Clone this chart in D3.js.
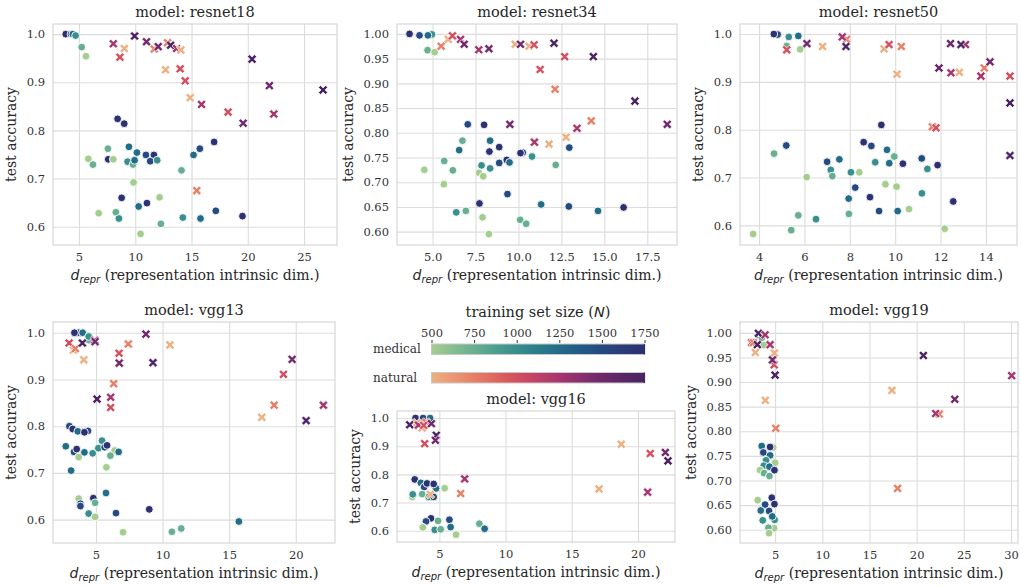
<!DOCTYPE html>
<html>
<head>
<meta charset="utf-8">
<script src="https://cdn.jsdelivr.net/npm/d3@7"></script>
<style>
  body { margin: 0; background: #fff; }
  svg { display: block; font-family: "DejaVu Serif", serif; }
</style>
</head>
<body>
<svg id="chart" width="1021" height="586"></svg>
<script>
// each point: [d_repr, test accuracy, training set size N]
const resnet18Medical = [[3.82,1.000,1750],[4.29,1.000,1500],[4.45,1.000,1250],[4.70,0.997,1000],[5.24,0.973,750],[5.62,0.954,500],
  [8.43,0.824,1750],[9.02,0.814,1750],[7.57,0.762,750],[7.60,0.740,1750],[8.05,0.740,500],[5.83,0.741,500],[6.24,0.729,750],
  [9.44,0.766,1250],[10.15,0.754,1250],[9.32,0.735,1000],[9.80,0.729,750],[9.94,0.738,1250],[10.95,0.749,1500],[11.66,0.749,1750],
  [11.33,0.736,1500],[11.95,0.738,1000],[9.85,0.692,500],[14.11,0.717,750],[15.18,0.749,1250],[15.74,0.762,1500],[17.01,0.776,1750],
  [8.79,0.660,1750],[11.04,0.649,1750],[10.30,0.642,1250],[12.16,0.661,500],[6.75,0.628,500],[8.28,0.630,750],[8.55,0.617,1000],
  [10.47,0.585,500],[12.28,0.606,750],[14.23,0.619,1000],[15.80,0.617,1250],[17.16,0.633,1500],[19.53,0.622,1750]];
const resnet18Natural = [[8.05,0.980,1250],[9.94,0.996,1750],[9.02,0.970,500],[8.64,0.952,1000],[11.00,0.984,1500],[11.69,0.969,750],
  [12.04,0.974,1500],[12.87,0.982,750],[13.14,0.977,1750],[13.67,0.970,1250],[14.05,0.967,500],[12.69,0.926,500],[13.99,0.928,1000],
  [14.44,0.903,1000],[14.88,0.868,500],[15.89,0.854,1250],[18.25,0.838,1000],[15.47,0.675,750],[20.38,0.948,1750],[21.92,0.893,1500],
  [19.59,0.815,1500],[22.31,0.834,1250],[26.69,0.884,1750]];

const resnet34Medical = [[3.66,1.000,1750],[4.24,0.997,1500],[4.96,0.999,1000],[4.73,0.997,1250],[4.71,0.967,750],[5.12,0.963,500],
  [7.05,0.817,1500],[8.00,0.816,1750],[6.74,0.784,750],[6.55,0.765,1250],[8.35,0.784,1250],[8.88,0.771,1750],[8.31,0.762,1750],
  [5.68,0.743,750],[4.52,0.725,500],[6.18,0.724,750],[5.66,0.696,500],[7.85,0.734,1000],[7.71,0.719,500],[7.95,0.712,500],
  [8.35,0.728,1000],[8.88,0.739,1500],[9.32,0.745,1750],[9.48,0.740,1250],[10.25,0.760,1500],[10.12,0.759,1750],[10.79,0.752,1000],
  [12.17,0.735,750],[12.96,0.770,1500],[9.36,0.676,1500],[7.73,0.657,1750],[11.32,0.655,1250],[12.93,0.651,1500],[14.63,0.642,1250],
  [16.12,0.649,1750],[6.38,0.639,1000],[6.94,0.642,750],[7.91,0.629,500],[10.10,0.624,750],[10.45,0.616,750],[8.28,0.595,500]];
const resnet34Natural = [[5.91,0.989,500],[5.50,0.975,750],[6.16,0.996,1000],[6.63,0.989,1250],[6.84,0.979,1500],[7.69,0.968,1250],
  [8.28,0.970,1500],[9.81,0.979,500],[10.12,0.979,1500],[10.62,0.975,500],[10.91,0.978,1000],[12.07,0.981,1750],[12.69,0.954,1000],
  [14.36,0.954,1750],[11.26,0.928,1000],[12.13,0.888,750],[16.78,0.864,1750],[18.66,0.817,1500],[9.50,0.817,1500],[10.93,0.781,1250],
  [11.78,0.777,500],[12.77,0.791,500],[13.41,0.809,1250],[14.24,0.824,750]];

const resnet50Medical = [[4.82,0.999,1500],[4.65,1.000,1750],[5.22,0.975,750],[5.31,0.994,1000],[5.73,0.996,1250],[5.81,0.968,500],
  [9.39,0.810,1750],[5.20,0.767,1500],[4.66,0.750,750],[8.61,0.774,1750],[8.95,0.766,1500],[9.64,0.758,1250],[9.96,0.744,750],
  [7.00,0.733,1500],[7.54,0.738,1250],[7.16,0.716,1000],[7.23,0.703,750],[6.10,0.701,500],[8.05,0.711,1000],[8.42,0.711,500],
  [9.12,0.732,1000],[9.74,0.730,1250],[10.34,0.729,1750],[11.17,0.740,1500],[11.42,0.718,1000],[11.87,0.726,1750],[8.24,0.679,1500],
  [7.95,0.656,1250],[8.89,0.659,1750],[9.57,0.686,500],[10.06,0.681,500],[11.18,0.667,1000],[9.29,0.630,1500],[10.11,0.630,1250],
  [10.61,0.634,500],[12.56,0.650,1750],[7.96,0.624,750],[5.73,0.621,750],[6.51,0.613,1000],[5.42,0.590,750],[3.74,0.582,500],
  [12.18,0.593,500]];
const resnet50Natural = [[5.22,0.967,1000],[6.11,0.980,1500],[6.80,0.974,500],[7.86,0.989,750],[7.67,0.994,1250],[7.83,0.974,1750],
  [9.51,0.969,500],[9.73,0.978,1000],[10.27,0.974,750],[10.08,0.916,500],[11.64,0.806,750],[11.80,0.804,1000],[11.93,0.929,1500],
  [12.44,0.980,1500],[12.46,0.919,1250],[12.83,0.920,500],[13.10,0.978,1250],[12.90,0.978,1750],[13.78,0.912,1250],[13.93,0.929,750],
  [14.18,0.942,1500],[15.06,0.912,1000],[15.06,0.856,1750],[15.06,0.746,1750]];

const vgg13Medical = [[3.70,1.000,1500],[4.00,1.000,1250],[3.38,1.000,1750],[4.48,0.984,750],[4.45,0.992,1000],[3.00,0.800,1500],
  [3.25,0.794,1750],[3.63,0.789,1250],[4.40,0.790,1500],[4.13,0.787,1750],[2.73,0.757,1250],[3.35,0.745,1500],[3.55,0.751,1750],
  [3.70,0.734,500],[4.13,0.744,1250],[4.75,0.742,1000],[5.18,0.753,1000],[5.45,0.769,1000],[5.65,0.755,1500],[5.83,0.759,1750],
  [6.40,0.748,500],[6.08,0.737,750],[6.70,0.745,1250],[5.78,0.712,500],[3.13,0.705,1250],[3.70,0.645,500],[3.83,0.634,1500],
  [3.83,0.629,1500],[4.80,0.646,1750],[4.93,0.636,750],[5.75,0.657,1250],[4.45,0.613,1000],[4.93,0.606,500],[6.50,0.614,1500],
  [9.00,0.622,1750],[7.03,0.573,500],[15.73,0.596,1250],[10.70,0.574,750],[11.40,0.581,750]];
const vgg13Natural = [[3.30,0.963,500],[2.98,0.978,1000],[3.45,0.966,750],[3.98,0.978,1750],[4.90,0.984,1250],[4.93,0.981,1500],
  [4.08,0.942,500],[7.43,0.976,750],[6.73,0.956,1000],[6.75,0.935,1500],[8.75,0.997,1500],[9.28,0.936,1750],[10.55,0.974,500],
  [6.33,0.891,750],[5.08,0.858,1750],[6.10,0.862,1250],[6.10,0.840,1000],[17.45,0.819,500],[18.38,0.845,750],[19.08,0.911,1000],
  [19.73,0.943,1500],[20.78,0.812,1750],[22.08,0.845,1250]];

const vgg16Medical = [[3.20,1.000,1750],[3.77,1.000,1500],[4.30,1.000,1250],[2.95,0.720,500],[2.99,0.729,1000],[3.14,0.782,1750],
  [3.60,0.770,1250],[3.85,0.755,1500],[4.07,0.768,1750],[4.75,0.750,1250],[4.57,0.766,1750],[5.40,0.751,500],[3.70,0.730,750],
  [4.20,0.720,1000],[4.57,0.720,1500],[4.37,0.644,1750],[3.99,0.633,1500],[4.90,0.635,750],[5.76,0.639,1500],[3.75,0.612,500],
  [4.65,0.603,1000],[5.10,0.605,750],[5.85,0.613,1250],[6.26,0.586,500],[8.02,0.625,750],[8.42,0.607,1250]];
const vgg16Natural = [[3.30,0.983,500],[3.70,0.965,500],[4.00,0.985,750],[2.76,0.976,1750],[3.42,0.975,1250],[3.82,0.974,1000],
  [4.40,0.980,1500],[4.77,0.939,1750],[4.70,0.921,1500],[3.89,0.909,1000],[4.32,0.729,500],[6.91,0.784,1250],[6.61,0.732,750],
  [18.74,0.907,500],[20.93,0.874,1000],[22.07,0.878,1500],[22.27,0.848,1750],[17.06,0.748,500],[20.73,0.737,1250]];

const vgg19Medical = [[3.30,0.995,1250],[3.60,0.990,750],[3.80,0.975,500],[4.80,0.767,500],[3.58,0.770,1250],[4.47,0.768,1750],
  [3.75,0.757,1500],[4.47,0.751,1250],[4.04,0.741,1000],[5.00,0.736,500],[3.80,0.730,1000],[4.40,0.728,1250],[4.93,0.721,1750],
  [3.40,0.721,500],[3.83,0.715,750],[4.40,0.709,750],[3.16,0.660,500],[4.65,0.665,1750],[3.94,0.651,1500],[4.93,0.652,1750],
  [3.48,0.639,1250],[4.36,0.638,1500],[4.95,0.620,1000],[4.70,0.627,1250],[3.69,0.619,1000],[4.90,0.603,500],[4.29,0.604,750],
  [4.36,0.593,500]];
const vgg19Natural = [[2.50,0.980,1000],[2.70,0.980,750],[2.90,0.960,500],[3.23,0.999,1750],[3.94,0.996,1250],[3.12,0.976,1750],
  [4.47,0.976,1250],[4.93,0.959,500],[4.90,0.935,1000],[4.72,0.945,1500],[5.00,0.914,1750],[3.97,0.863,500],[5.07,0.806,750],
  [20.71,0.954,1750],[17.38,0.883,500],[24.04,0.865,1500],[22.40,0.835,750],[22.02,0.836,1250],[30.07,0.913,1250],[17.98,0.684,750]];

const sizeTicks = [500, 750, 1000, 1250, 1500, 1750];

// seaborn-like crest / flare palettes
const crest = d3.interpolateRgbBasis(["#a5cd90","#79b892","#4ea190","#32898d","#227189","#1f5886","#2a3f7e","#2c3172"]);
const flare = d3.interpolateRgbBasis(["#edb081","#eb9570","#e67a62","#df5c5c","#cc4563","#b23a6c","#942f71","#742a6e","#5a2566","#4b2362"]);
const nScale = d3.scaleLinear().domain([500, 1750]).range([0, 1]).clamp(true);

const svg = d3.select("#chart");
const mathFont = "DejaVu Sans";

const panels = [
  {title: "model: resnet18", med: resnet18Medical, nat: resnet18Natural, x0: 53, x1: 337, y0: 24, y1: 245,
   xd: [2.69, 27.93], yd: [0.562, 1.021], xt: [5, 10, 15, 20, 25], yt: [0.6, 0.7, 0.8, 0.9, 1.0], xf: "d", yf: ".1f"},
  {title: "model: resnet34", med: resnet34Medical, nat: resnet34Natural, x0: 397, x1: 677, y0: 24, y1: 245,
   xd: [2.93, 19.23], yd: [0.573, 1.020], xt: [5, 7.5, 10, 12.5, 15, 17.5], yt: d3.range(0.60, 1.001, 0.05), xf: ".1f", yf: ".2f"},
  {title: "model: resnet50", med: resnet50Medical, nat: resnet50Natural, x0: 740, x1: 1017, y0: 24, y1: 245,
   xd: [3.16, 15.37], yd: [0.559, 1.021], xt: [4, 6, 8, 10, 12, 14], yt: [0.6, 0.7, 0.8, 0.9, 1.0], xf: "d", yf: ".1f"},
  {title: "model: vgg13", med: vgg13Medical, nat: vgg13Natural, x0: 53, x1: 335, y0: 322, y1: 543,
   xd: [1.77, 22.95], yd: [0.55, 1.023], xt: [5, 10, 15, 20], yt: [0.6, 0.7, 0.8, 0.9, 1.0], xf: "d", yf: ".1f"},
  {title: "model: vgg16", med: vgg16Medical, nat: vgg16Natural, x0: 397, x1: 675, y0: 411, y1: 542,
   xd: [1.8, 22.8], yd: [0.56, 1.025], xt: [5, 10, 15, 20], yt: [0.6, 0.7, 0.8, 0.9, 1.0], xf: "d", yf: ".1f"},
  {title: "model: vgg19", med: vgg19Medical, nat: vgg19Natural, x0: 740, x1: 1018, y0: 322, y1: 543,
   xd: [1.28, 30.74], yd: [0.573, 1.022], xt: [5, 10, 15, 20, 25, 30], yt: d3.range(0.60, 1.001, 0.05), xf: "d", yf: ".2f"}
];

// filled "X" marker like matplotlib's
function xPath(s, w) {
  const pts = [[-w,-s],[w,-s],[w,-w],[s,-w],[s,w],[w,w],[w,s],[-w,s],[-w,w],[-s,w],[-s,-w],[-w,-w]];
  const c = Math.SQRT1_2;
  return "M" + pts.map(p => [(p[0] - p[1]) * c, (p[0] + p[1]) * c].map(v => v.toFixed(2)).join(",")).join("L") + "Z";
}
const xMarker = xPath(5.0, 1.45);

panels.forEach(p => {
  const x = d3.scaleLinear().domain(p.xd).range([p.x0, p.x1]);
  const y = d3.scaleLinear().domain(p.yd).range([p.y1, p.y0]);
  const g = svg.append("g");

  g.append("rect").attr("x", p.x0).attr("y", p.y0).attr("width", p.x1 - p.x0).attr("height", p.y1 - p.y0)
    .attr("fill", "#fff");

  g.append("g").attr("transform", `translate(0,${p.y1})`)
    .call(d3.axisBottom(x).tickValues(p.xt).tickSize(-(p.y1 - p.y0)).tickPadding(7.5).tickFormat(d3.format(p.xf)))
    .call(a => a.select(".domain").remove())
    .call(a => a.selectAll("line").attr("stroke", "#dcdcdc").attr("stroke-width", 1.1))
    .call(a => a.selectAll("text").attr("fill", "#333").attr("font-size", 11.5).attr("font-family", "DejaVu Serif"));

  g.append("g").attr("transform", `translate(${p.x0},0)`)
    .call(d3.axisLeft(y).tickValues(p.yt).tickSize(-(p.x1 - p.x0)).tickPadding(8).tickFormat(d3.format(p.yf)))
    .call(a => a.select(".domain").remove())
    .call(a => a.selectAll("line").attr("stroke", "#dcdcdc").attr("stroke-width", 1.1))
    .call(a => a.selectAll("text").attr("fill", "#333").attr("font-size", 11.5).attr("font-family", "DejaVu Serif"));

  g.append("rect").attr("x", p.x0).attr("y", p.y0).attr("width", p.x1 - p.x0).attr("height", p.y1 - p.y0)
    .attr("fill", "none").attr("stroke", "#d4d4d4").attr("stroke-width", 1.1);

  const clipId = "clip" + p.x0 + "_" + p.y0;
  g.append("clipPath").attr("id", clipId).append("rect")
    .attr("x", p.x0 - 2).attr("y", p.y0 - 2).attr("width", p.x1 - p.x0 + 4).attr("height", p.y1 - p.y0 + 4);
  const marks = g.append("g").attr("clip-path", `url(#${clipId})`);

  marks.selectAll("circle").data(p.med).join("circle")
    .attr("cx", d => x(d[0])).attr("cy", d => y(d[1])).attr("r", 3.9)
    .attr("fill", d => crest(nScale(d[2]))).attr("stroke", "#fff").attr("stroke-width", 0.9);

  marks.selectAll("path.nat").data(p.nat).join("path").attr("class", "nat")
    .attr("d", xMarker).attr("transform", d => `translate(${x(d[0])},${y(d[1])})`)
    .attr("fill", d => flare(nScale(d[2]))).attr("stroke", "#fff").attr("stroke-width", 0.7);

  g.append("text").attr("x", (p.x0 + p.x1) / 2).attr("y", p.y0 - 7).attr("text-anchor", "middle")
    .attr("font-size", 14.5).attr("fill", "#262626").text(p.title);

  const xl = g.append("text").attr("x", (p.x0 + p.x1) / 2).attr("y", p.y1 + 34.5).attr("text-anchor", "middle")
    .attr("font-size", 14).attr("fill", "#262626");
  xl.append("tspan").attr("font-style", "italic").attr("font-family", mathFont).text("d");
  xl.append("tspan").attr("font-style", "italic").attr("font-family", mathFont).attr("font-size", 10).attr("dy", 3).text("repr");
  xl.append("tspan").attr("dy", -3).text(" (representation intrinsic dim.)");

  const off = p.yf === ".2f" ? 44 : 37;
  g.append("text").attr("transform", `translate(${p.x0 - off},${(p.y0 + p.y1) / 2}) rotate(-90)`)
    .attr("text-anchor", "middle").attr("font-size", 14).attr("fill", "#262626").text("test accuracy");
});

// colour bars legend
const cb = {x0: 431.5, x1: 644.5};
const cx = d3.scaleLinear().domain([500, 1750]).range([cb.x0, cb.x1]);
const defs = svg.append("defs");
[["gMed", crest], ["gNat", flare]].forEach(([id, f]) => {
  const lg = defs.append("linearGradient").attr("id", id);
  d3.range(0, 1.0001, 0.05).forEach(t => lg.append("stop").attr("offset", t).attr("stop-color", f(t)));
});

const legendTitle = svg.append("text").attr("x", 538).attr("y", 317).attr("text-anchor", "middle")
  .attr("font-size", 14.5).attr("fill", "#262626");
legendTitle.append("tspan").text("training set size (");
legendTitle.append("tspan").attr("font-style", "italic").attr("font-family", mathFont).text("N");
legendTitle.append("tspan").text(")");

svg.append("g").attr("transform", "translate(0,343)")
  .call(d3.axisTop(cx).tickValues(sizeTicks).tickSize(3).tickPadding(3).tickFormat(d3.format("d")))
  .call(a => a.select(".domain").remove())
  .call(a => a.selectAll("line").attr("stroke", "#333"))
  .call(a => a.selectAll("text").attr("fill", "#333").attr("font-size", 11.5).attr("font-family", "DejaVu Serif"));

[["medical", "gMed", 344, crest], ["natural", "gNat", 372.5, flare]].forEach(([lab, id, top, f]) => {
  svg.append("rect").attr("x", cb.x0).attr("y", top).attr("width", cb.x1 - cb.x0).attr("height", 10.5)
    .attr("fill", `url(#${id})`).attr("stroke", "#c8c8c8").attr("stroke-width", 1);
  svg.append("line").attr("x1", cb.x1).attr("x2", cb.x1).attr("y1", top).attr("y2", top + 10.5)
    .attr("stroke", f(1)).attr("stroke-width", 1.2);
  svg.append("text").attr("x", 373).attr("y", top + 9).attr("font-size", 12).attr("fill", "#333").text(lab);
});
</script>
</body>
</html>
